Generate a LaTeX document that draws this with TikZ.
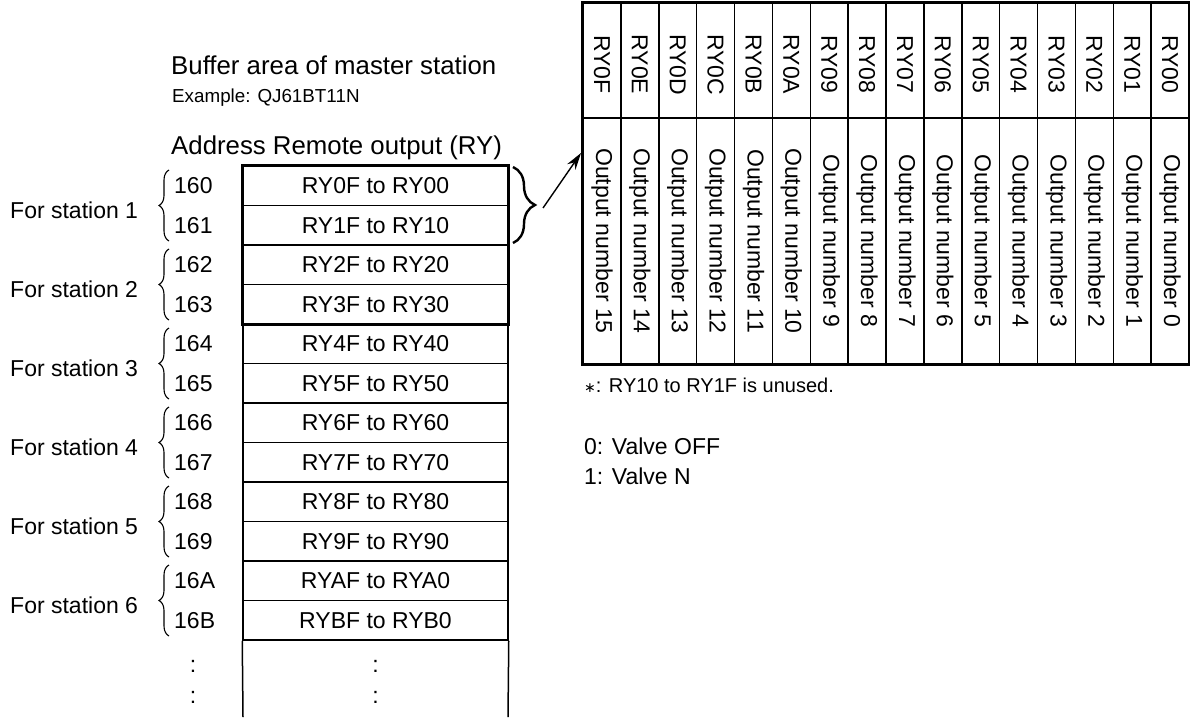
\documentclass[tikz,border=0pt]{standalone}
\usepackage{fontspec}
\setmainfont{Liberation Sans}
\newfontfamily\djv{DejaVu Sans}
\usetikzlibrary{decorations.pathreplacing,arrows.meta,calc}
\begin{document}
\begin{tikzpicture}[x=1pt,y=-1pt,
  txt/.style={inner sep=0pt, font=\fontsize{23}{27}\selectfont},
  head/.style={inner sep=0pt, anchor=west, font=\fontsize{25.8}{30}\selectfont},
  small/.style={inner sep=0pt, anchor=west, font=\fontsize{18.8}{22}\selectfont},
  cell/.style={draw, line width=1.5pt, minimum width=265pt, minimum height=39.5pt, inner sep=0pt, font=\fontsize{23}{27}\selectfont},
  col/.style={draw, line width=1.5pt, minimum width=37.875pt, inner sep=0pt},
  vtxt/.style={rotate=-90, inner sep=0pt, font=\fontsize{23}{27}\selectfont},
  lbrace/.style={decorate, decoration={brace, amplitude=10pt, aspect=0.5}, line width=1.1pt},
  rbrace/.style={decorate, decoration={brace, amplitude=22pt, aspect=0.5}, line width=2.4pt},
  arr/.style={line width=1.4pt, -{Stealth[length=17pt, width=10pt]}}
]
\useasboundingbox (0,0) rectangle (1190,717);

% headings
\node[head] (t1) at (171,65) {Buffer area of master station};
\node[small] (t2) at (172,98) {Example: QJ61BT11N};
\node[head] (t3) at (171,148) {Address Remote output (RY)};

% left table
\foreach \i/\ad/\tx in {0/160/RY0F to RY00, 1/161/RY1F to RY10, 2/162/RY2F to RY20, 3/163/RY3F to RY30,
  4/164/RY4F to RY40, 5/165/RY5F to RY50, 6/166/RY6F to RY60, 7/167/RY7F to RY70,
  8/168/RY8F to RY80, 9/169/RY9F to RY90, 10/16A/RYAF to RYA0, 11/16B/RYBF to RYB0} {
  \pgfmathsetmacro{\yy}{166+39.5*(\i+0.5)}
  \node[cell] (r\i) at (375.5,\yy) {\tx};
  \node[txt, anchor=west] (a\i) at (174,\yy) {\ad};
}
\draw[line width=2.6pt] (r0.north west) rectangle (r3.south east);
\coordinate (endL) at (243,717);
\coordinate (endR) at (508,717);
\draw[line width=1.5pt] (r11.south west) -- (endL);
\draw[line width=1.5pt] (r11.south east) -- (endR);
\node[txt] (d1) at (193,666) {:};
\node[txt] (d2) at (193,697) {:};
\node[txt] (d3) at (375.5,666) {:};
\node[txt] (d4) at (375.5,697) {:};

% stations and braces
\foreach \k in {0,...,5} {
  \pgfmathsetmacro{\yt}{166+79*\k+4}
  \pgfmathsetmacro{\yb}{166+79*(\k+1)-4}
  \pgfmathsetmacro{\ym}{166+79*\k+39.5+5}
  \pgfmathtruncatemacro{\n}{\k+1}
  \coordinate (bb\k) at (169,\yb);
  \coordinate (bt\k) at (169,\yt);
  \draw[lbrace] (bb\k) -- (bt\k);
  \node[txt, anchor=west] (s\k) at (10,\ym) {For station \n};
}

% right brace and arrow
\coordinate (rb1) at (513,167);
\coordinate (rb2) at (513,243);
\draw[rbrace] (rb1) -- (rb2);
\coordinate (arS) at (543,208);
\coordinate (arE) at (581,153);
\draw[arr] (arS) -- (arE);

% right table
\foreach \j/\h/\n in {0/F/15,1/E/14,2/D/13,3/C/12,4/B/11,5/A/10,6/9/9,7/8/8,8/7/7,9/6/6,10/5/5,11/4/4,12/3/3,13/2/2,14/1/1,15/0/0} {
  \pgfmathsetmacro{\xx}{583+37.875*(\j+0.5)}
  \node[col, minimum height=115pt] (h\j) at (\xx,60.5) {};
  \node[col, minimum height=246pt] (b\j) at (\xx,241) {};
  \node[vtxt] (hl\j) at ($(h\j.center)+(0,4)$) {RY0\h};
  \node[vtxt] (bl\j) at (b\j.center) {Output number \n};
}
\draw[line width=2.2pt] (h0.north west) rectangle (b15.south east);

% notes
\node[inner sep=0pt, anchor=west, font=\fontsize{20}{24}\selectfont] (n1) at (584,385) {{\djv\fontsize{14}{16}\selectfont ∗}: RY10 to RY1F is unused.};
\node[txt, anchor=west] (n2) at (584,446) {0: Valve OFF};
\node[txt, anchor=west] (n3) at (584,476) {1: Valve N};
\end{tikzpicture}
\end{document}
